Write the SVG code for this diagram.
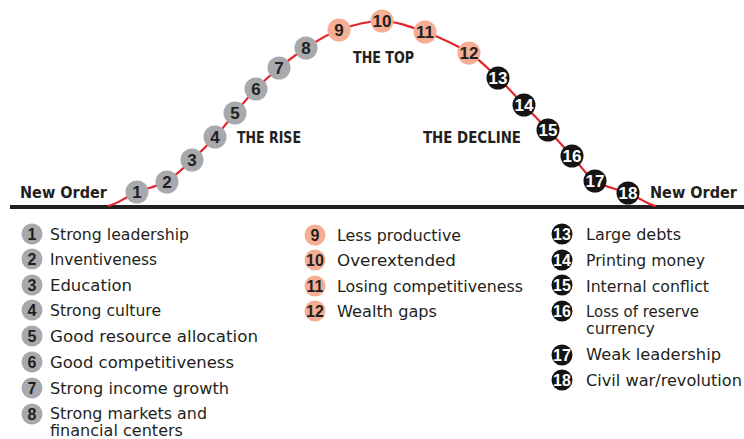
<svg xmlns="http://www.w3.org/2000/svg" width="744" height="439" viewBox="0 0 744 439">
<style>
.g{fill:#a7a9ac}
.s{fill:#f5ae93}
.k{fill:#141414}
.n{font-family:"Liberation Sans",Arial,sans-serif;font-weight:bold;font-size:17px;text-anchor:middle;fill:#231f20}
.nw{font-family:"Liberation Sans",Arial,sans-serif;font-weight:bold;font-size:17px;text-anchor:middle;fill:#ffffff}
.ln{font-family:"Liberation Sans",Arial,sans-serif;font-weight:bold;font-size:16px;text-anchor:middle;fill:#231f20}
.lnw{font-family:"Liberation Sans",Arial,sans-serif;font-weight:bold;font-size:16px;text-anchor:middle;fill:#ffffff}
.t{font-family:"DejaVu Sans","Liberation Sans",sans-serif;font-size:15px;fill:#231f20}
.h{font-family:"DejaVu Sans","Liberation Sans",sans-serif;font-weight:bold;font-size:15px;fill:#231f20}
</style>
<rect width="744" height="439" fill="#ffffff"/>
<g id="connectors">
<line x1="10" y1="207" x2="744" y2="207" stroke="#231f20" stroke-width="4"/>
<path d="M108,206 C118,204 127,196.2 137,192 C148.2,187.8 157.8,186.3 167,181 C176.2,175.7 184,167.3 192,160 C200,152.7 207.8,144.8 215,137 C222.2,129.2 228.2,121 235,113 C241.8,105 248.7,96.5 256,89 C263.3,81.5 270.7,74.8 279,68 C287.3,61.2 296,54.3 306,48 C316,41.7 326.3,34.5 339,30 C351.7,25.5 367.7,20.7 382,21 C396.3,21.3 410.5,26.7 425,32 C439.5,37.3 456.8,45.3 469,53 C481.2,60.7 488.8,69.3 498,78 C507.2,86.7 515.7,96.3 524,105 C532.3,113.7 540,121.5 548,130 C556,138.5 564.2,147.5 572,156 C579.8,164.5 585.7,174.8 595,181 C604.3,187.2 616.8,188.8 628,193 C639.2,197.2 646,204 656,206" fill="none" stroke="#e3242b" stroke-width="2.2"/>
</g>
<g id="labels">
<text class="h" x="20" y="198" textLength="87" lengthAdjust="spacingAndGlyphs">New Order</text>
<text class="h" x="650" y="198" textLength="87" lengthAdjust="spacingAndGlyphs">New Order</text>
<text class="h" x="237" y="143" textLength="64" lengthAdjust="spacingAndGlyphs">THE RISE</text>
<text class="h" x="353" y="63" textLength="61" lengthAdjust="spacingAndGlyphs">THE TOP</text>
<text class="h" x="423" y="143" textLength="98" lengthAdjust="spacingAndGlyphs">THE DECLINE</text>
</g>
<g id="curve-nodes">
<g id="c1"><circle class="g" cx="137" cy="192" r="11.5"/><text class="n" x="137" y="198">1</text></g>
<g id="c2"><circle class="g" cx="167" cy="182" r="11.5"/><text class="n" x="167" y="188">2</text></g>
<g id="c3"><circle class="g" cx="192" cy="160" r="11.5"/><text class="n" x="192" y="166">3</text></g>
<g id="c4"><circle class="g" cx="215" cy="137" r="11.5"/><text class="n" x="215" y="143">4</text></g>
<g id="c5"><circle class="g" cx="235" cy="113" r="11.5"/><text class="n" x="235" y="119">5</text></g>
<g id="c6"><circle class="g" cx="256" cy="89" r="11.5"/><text class="n" x="256" y="95">6</text></g>
<g id="c7"><circle class="g" cx="279" cy="68" r="11.5"/><text class="n" x="279" y="74">7</text></g>
<g id="c8"><circle class="g" cx="306" cy="48" r="11.5"/><text class="n" x="306" y="54">8</text></g>
<g id="c9"><circle class="s" cx="339" cy="30" r="11.5"/><text class="n" x="339" y="36">9</text></g>
<g id="c10"><circle class="s" cx="382" cy="21" r="11.5"/><text class="n" x="382" y="27">10</text></g>
<g id="c11"><circle class="s" cx="425" cy="32" r="11.5"/><text class="n" x="425" y="38">11</text></g>
<g id="c12"><circle class="s" cx="469" cy="53" r="11.5"/><text class="n" x="469" y="59">12</text></g>
<g id="c13"><circle class="k" cx="498" cy="78" r="11.5"/><text class="nw" x="498" y="84">13</text></g>
<g id="c14"><circle class="k" cx="524" cy="105" r="11.5"/><text class="nw" x="524" y="111">14</text></g>
<g id="c15"><circle class="k" cx="548" cy="130" r="11.5"/><text class="nw" x="548" y="136">15</text></g>
<g id="c16"><circle class="k" cx="572" cy="156" r="11.5"/><text class="nw" x="572" y="162">16</text></g>
<g id="c17"><circle class="k" cx="595" cy="181" r="11.5"/><text class="nw" x="595" y="187">17</text></g>
<g id="c18"><circle class="k" cx="628" cy="193" r="11.5"/><text class="nw" x="628" y="199">18</text></g>
</g>
<g id="legend-rise">
<g id="l1"><circle class="g" cx="32" cy="234" r="10.5"/><text class="ln" x="32" y="240">1</text><text class="t" x="50" y="240" textLength="139" lengthAdjust="spacingAndGlyphs">Strong leadership</text></g>
<g id="l2"><circle class="g" cx="32" cy="259" r="10.5"/><text class="ln" x="32" y="265">2</text><text class="t" x="50" y="265" textLength="107" lengthAdjust="spacingAndGlyphs">Inventiveness</text></g>
<g id="l3"><circle class="g" cx="32" cy="285" r="10.5"/><text class="ln" x="32" y="291">3</text><text class="t" x="50" y="291" textLength="82" lengthAdjust="spacingAndGlyphs">Education</text></g>
<g id="l4"><circle class="g" cx="32" cy="310" r="10.5"/><text class="ln" x="32" y="316">4</text><text class="t" x="50" y="316" textLength="111" lengthAdjust="spacingAndGlyphs">Strong culture</text></g>
<g id="l5"><circle class="g" cx="32" cy="336" r="10.5"/><text class="ln" x="32" y="342">5</text><text class="t" x="50" y="342" textLength="208" lengthAdjust="spacingAndGlyphs">Good resource allocation</text></g>
<g id="l6"><circle class="g" cx="32" cy="362" r="10.5"/><text class="ln" x="32" y="368">6</text><text class="t" x="50" y="368" textLength="184" lengthAdjust="spacingAndGlyphs">Good competitiveness</text></g>
<g id="l7"><circle class="g" cx="32" cy="388" r="10.5"/><text class="ln" x="32" y="394">7</text><text class="t" x="50" y="394" textLength="179" lengthAdjust="spacingAndGlyphs">Strong income growth</text></g>
<g id="l8"><circle class="g" cx="32" cy="414" r="10.5"/><text class="ln" x="32" y="420">8</text><text class="t" x="50" y="419" textLength="157" lengthAdjust="spacingAndGlyphs">Strong markets and</text><text class="t" x="50" y="436" textLength="133" lengthAdjust="spacingAndGlyphs">financial centers</text></g>
</g>
<g id="legend-top">
<g id="l9"><circle class="s" cx="315" cy="235" r="10.5"/><text class="ln" x="315" y="241">9</text><text class="t" x="337" y="241" textLength="124" lengthAdjust="spacingAndGlyphs">Less productive</text></g>
<g id="l10"><circle class="s" cx="315" cy="260" r="10.5"/><text class="ln" x="315" y="266">10</text><text class="t" x="337" y="266" textLength="119" lengthAdjust="spacingAndGlyphs">Overextended</text></g>
<g id="l11"><circle class="s" cx="315" cy="286" r="10.5"/><text class="ln" x="315" y="292">11</text><text class="t" x="337" y="292" textLength="186" lengthAdjust="spacingAndGlyphs">Losing competitiveness</text></g>
<g id="l12"><circle class="s" cx="315" cy="311" r="10.5"/><text class="ln" x="315" y="317">12</text><text class="t" x="337" y="317" textLength="100" lengthAdjust="spacingAndGlyphs">Wealth gaps</text></g>
</g>
<g id="legend-decline">
<g id="l13"><circle class="k" cx="562" cy="234" r="10.5"/><text class="lnw" x="562" y="240">13</text><text class="t" x="586" y="240" textLength="95" lengthAdjust="spacingAndGlyphs">Large debts</text></g>
<g id="l14"><circle class="k" cx="562" cy="260" r="10.5"/><text class="lnw" x="562" y="266">14</text><text class="t" x="586" y="266" textLength="119" lengthAdjust="spacingAndGlyphs">Printing money</text></g>
<g id="l15"><circle class="k" cx="562" cy="285" r="10.5"/><text class="lnw" x="562" y="291">15</text><text class="t" x="586" y="292" textLength="123" lengthAdjust="spacingAndGlyphs">Internal conflict</text></g>
<g id="l16"><circle class="k" cx="562" cy="311" r="10.5"/><text class="lnw" x="562" y="317">16</text><text class="t" x="586" y="317" textLength="113" lengthAdjust="spacingAndGlyphs">Loss of reserve</text><text class="t" x="586" y="334" textLength="69" lengthAdjust="spacingAndGlyphs">currency</text></g>
<g id="l17"><circle class="k" cx="562" cy="355" r="10.5"/><text class="lnw" x="562" y="361">17</text><text class="t" x="586" y="360" textLength="135" lengthAdjust="spacingAndGlyphs">Weak leadership</text></g>
<g id="l18"><circle class="k" cx="562" cy="380" r="10.5"/><text class="lnw" x="562" y="386">18</text><text class="t" x="586" y="386" textLength="156" lengthAdjust="spacingAndGlyphs">Civil war/revolution</text></g>
</g>
</svg>
